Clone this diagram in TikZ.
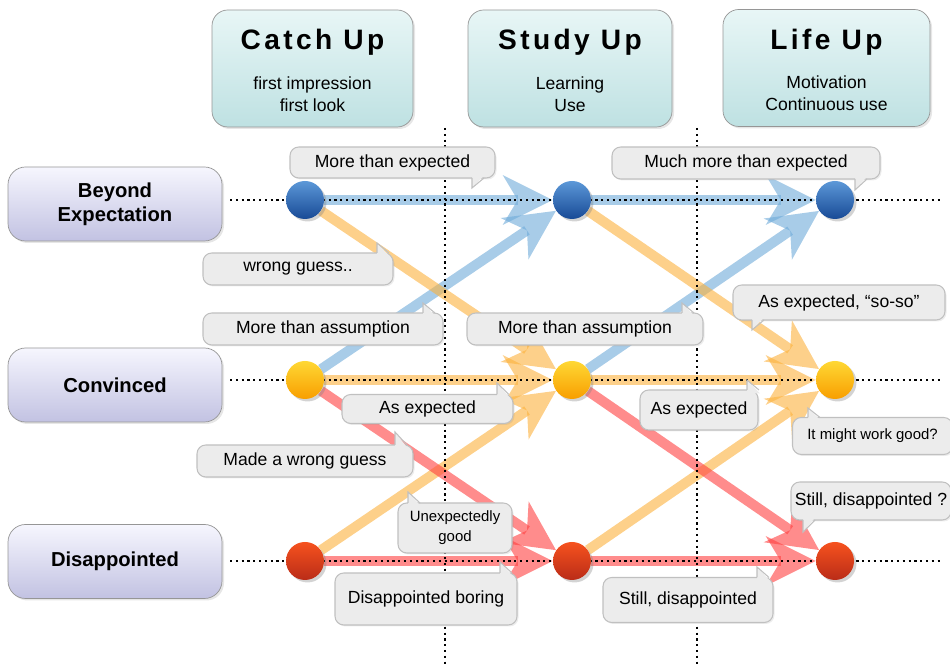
\documentclass[tikz,border=0pt]{standalone}
\usepackage{fontspec}
\setmainfont{Liberation Sans}
\usepackage{xcolor}
\usepackage{tikz}
\usetikzlibrary{arrows.meta, positioning, calc, shadows}
\definecolor{headtop}{RGB}{232,246,246}
\definecolor{headbottom}{RGB}{190,225,226}
\definecolor{rowtop}{RGB}{246,246,254}
\definecolor{rowbottom}{RGB}{194,194,226}
\definecolor{boxline}{RGB}{150,150,150}
\definecolor{bubblefill}{RGB}{236,236,236}
\definecolor{bubbleline}{RGB}{192,192,192}
\definecolor{upblue}{RGB}{110,170,217}
\definecolor{samegold}{RGB}{252,177,60}
\definecolor{downred}{RGB}{255,63,63}
\definecolor{bluetop}{RGB}{92,152,216}
\definecolor{bluebottom}{RGB}{24,74,150}
\definecolor{goldtop}{RGB}{255,216,52}
\definecolor{goldbottom}{RGB}{248,158,0}
\definecolor{redtop}{RGB}{246,82,30}
\definecolor{redbottom}{RGB}{186,44,24}
% tail of a speech bubble: x, edge y, tip y
\newcommand{\btail}[3]{%
  \fill[bubblefill] (#1,{#2+0.07*sign(#2-#3)}) -- (#1,#3) -- ({#1+0.26},{#2+0.07*sign(#2-#3)}) -- cycle;
  \draw[bubbleline, line width=0.6pt] (#1,#2) -- (#1,#3) -- ({#1+0.24},#2);}

\begin{document}
\begin{tikzpicture}[
    headbox/.style={draw=boxline, rounded corners=9pt, top color=headtop, bottom color=headbottom, minimum height=2.34cm, drop shadow={opacity=0.2, shadow xshift=0.04cm, shadow yshift=-0.04cm}},
    headtitle/.style={font=\fontsize{16}{19}\selectfont\bfseries\addfontfeature{LetterSpace=12}},
    headsub/.style={font=\fontsize{10}{12.5}\selectfont, align=center},
    rowbox/.style={draw=boxline, rounded corners=10pt, top color=rowtop, bottom color=rowbottom, minimum width=4.28cm, minimum height=1.48cm, align=center, font=\fontsize{11.5}{13.6}\selectfont\bfseries, drop shadow={opacity=0.2, shadow xshift=0.04cm, shadow yshift=-0.04cm}},
    ball/.style={circle, minimum size=0.76cm, inner sep=0pt, drop shadow={opacity=0.35, shadow xshift=0.05cm, shadow yshift=-0.05cm}},
    bubble/.style={draw=bubbleline, line width=0.6pt, fill=bubblefill, rounded corners=5pt, inner sep=0pt, align=center, font=\fontsize{10}{12}\selectfont, drop shadow={opacity=0.15, shadow xshift=0.03cm, shadow yshift=-0.03cm}},
    smallbubble/.style={bubble, font=\fontsize{8.5}{11.3}\selectfont},
    flow/.style={line width=0.2cm, opacity=0.6, -{Stealth[length=1cm, width=1cm, inset=0.3cm, line width=0pt]}},
    guide/.style={dotted, line width=1.3pt}
]
    \useasboundingbox (0,0) rectangle (19,13.32);

    % Stage headers
    \node[headbox, minimum width=4.02cm] (catchup) at (6.25,11.95) {};
    \node[headtitle] (catchtitle) at (6.25,12.48) {Catch Up};
    \node[headsub] (catchsub) at (6.25,11.44) {first impression\\first look};

    \node[headbox, minimum width=4.08cm] (studyup) at (11.4,11.95) {};
    \node[headtitle] (studytitle) at (11.4,12.48) {Study Up};
    \node[headsub] (studysub) at (11.4,11.44) {Learning\\Use};

    \node[headbox, minimum width=4.14cm] (lifeup) at (16.53,11.96) {};
    \node[headtitle] (lifetitle) at (16.53,12.48) {Life Up};
    \node[headsub] (lifesub) at (16.53,11.46) {Motivation\\Continuous use};

    % Feeling rows
    \node[rowbox] (beyond) at (2.3,9.24) {Beyond\\Expectation};
    \node[rowbox] (convinced) at (2.3,5.62) {Convinced};
    \node[rowbox] (disappointed) at (2.3,2.09) {Disappointed};

    % State points (placed first, drawn again on top)
    \foreach \col/\x in {1/6.1, 2/11.44, 3/16.7} {
        \coordinate (b\col) at (\x,9.32);
        \coordinate (c\col) at (\x,5.72);
        \coordinate (d\col) at (\x,2.1);
    }
    \foreach \p in {b1,b2,b3,c1,c2,c3,d1,d2,d3}
        \node[circle, minimum size=0.76cm, inner sep=0pt] (n\p) at (\p) {};

    % Transitions
    \draw[flow, upblue] (nb1) -- (nb2);
    \draw[flow, upblue] (nb2) -- (nb3);
    \draw[flow, upblue] (nc1) -- (nb2);
    \draw[flow, upblue] (nc2) -- (nb3);

    \draw[flow, samegold] (nb1) -- (nc2);
    \draw[flow, samegold] (nb2) -- (nc3);
    \draw[flow, samegold] (nc1) -- (nc2);
    \draw[flow, samegold] (nc2) -- (nc3);
    \draw[flow, samegold] (nd1) -- (nc2);
    \draw[flow, samegold] (nd2) -- (nc3);

    \draw[flow, downred] (nc1) -- (nd2);
    \draw[flow, downred] (nc2) -- (nd3);
    \draw[flow, downred] (nd1) -- (nd2);
    \draw[flow, downred] (nd2) -- (nd3);

    % Guide lines
    \coordinate (stageA) at (8.9,10.76);
    \coordinate (stageAend) at (8.9,0);
    \coordinate (stageB) at (13.94,10.76);
    \coordinate (stageBend) at (13.94,0);
    \draw[guide] (stageA) -- (stageAend);
    \draw[guide] (stageB) -- (stageBend);
    \foreach \r/\y in {b/9.32, c/5.72, d/2.1} {
        \coordinate (\r start) at (4.6,\y);
        \coordinate (\r end) at (18.8,\y);
        \draw[guide] (\r start) -- (\r end);
    }

    % Balls
    \foreach \col in {1,2,3} {
        \node[ball, top color=bluetop, bottom color=bluebottom] (ballb\col) at (b\col) {};
        \node[ball, top color=goldtop, bottom color=goldbottom] (ballc\col) at (c\col) {};
        \node[ball, top color=redtop, bottom color=redbottom] (balld\col) at (d\col) {};
    }

    % Comments
    \node[bubble, minimum width=4.1cm, minimum height=0.62cm] (moreexp) at (7.85,10.07) {More than expected};
    \btail{9.44}{9.76}{9.56}

    \node[bubble, minimum width=5.36cm, minimum height=0.64cm] (muchmore) at (14.92,10.06) {Much more than expected};
    \btail{17.1}{9.74}{9.52}

    \node[bubble, minimum width=3.8cm, minimum height=0.64cm] (wrongguess) at (5.96,7.94) {wrong guess..};
    \btail{7.54}{8.26}{8.46}

    \node[bubble, minimum width=4.8cm, minimum height=0.64cm] (assumeA) at (6.46,6.74) {More than assumption};
    \btail{8.46}{7.06}{7.26}

    \node[bubble, minimum width=4.72cm, minimum height=0.64cm] (assumeB) at (11.7,6.74) {More than assumption};
    \btail{13.64}{7.06}{7.26}

    \node[bubble, minimum width=4.24cm, minimum height=0.7cm] (soso) at (16.78,7.27) {As expected, ``so-so''};
    \btail{15.04}{6.92}{6.72}

    \node[bubble, minimum width=3.42cm, minimum height=0.58cm] (asexpA) at (8.55,5.14) {As expected};
    \btail{9.94}{5.43}{5.66}

    \node[bubble, minimum width=2.36cm, minimum height=0.8cm] (asexpB) at (13.98,5.12) {As expected};
    \btail{14.94}{5.52}{5.72}

    \node[smallbubble, minimum width=3.2cm, minimum height=0.74cm] (mightwork) at (17.45,4.6) {It might work good?};
    \btail{16.16}{4.97}{5.16}

    \node[bubble, minimum width=4.32cm, minimum height=0.64cm] (madewrong) at (6.1,4.1) {Made a wrong guess};
    \btail{7.9}{4.42}{4.68}

    \node[smallbubble, minimum width=2.28cm, minimum height=1cm] (unexpgood) at (9.1,2.76) {Unexpectedly\\good};
    \btail{8.16}{3.26}{3.48}

    \node[bubble, minimum width=3.2cm, minimum height=0.76cm] (stilldisq) at (17.42,3.3) {Still, disappointed ?};
    \btail{16.06}{2.92}{2.68}

    \node[bubble, minimum width=3.64cm, minimum height=1.04cm] (boring) at (8.52,1.34) {Disappointed boring};
    \btail{10.0}{1.86}{2.08}

    \node[bubble, minimum width=3.4cm, minimum height=0.9cm] (stilldis) at (13.76,1.32) {Still, disappointed};
    \btail{15.14}{1.77}{1.98}
\end{tikzpicture}
\end{document}
